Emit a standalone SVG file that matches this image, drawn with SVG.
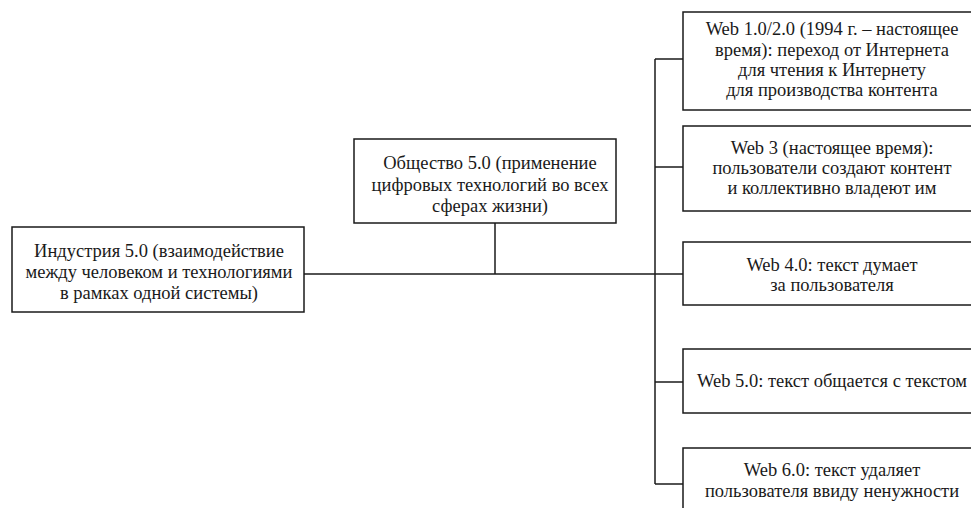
<svg xmlns="http://www.w3.org/2000/svg" width="971" height="508" viewBox="0 0 971 508">
<style>
.box{fill:#fff;stroke:#1a1a1a;stroke-width:1.5}
.t{font-family:"Liberation Serif","Times New Roman",Times,serif;font-size:18.5px;fill:#1a1a1a;text-anchor:middle}
.c{fill:none;stroke:#1a1a1a;stroke-width:1.5}
</style>
<rect width="971" height="508" fill="#fff"/>
<g id="connectors">
<path class="c" d="M304 274H683"/>
<path class="c" d="M495 223V274"/>
<path class="c" d="M655 59V484"/>
<path class="c" d="M655 59H683"/>
<path class="c" d="M655 167H683"/>
<path class="c" d="M655 382H683"/>
<path class="c" d="M655 484H683"/>
</g>
<g id="industry">
<rect class="box" x="12" y="227" width="292" height="85"/>
<text class="t" x="159" y="257">Индустрия 5.0 (взаимодействие</text>
<text class="t" x="159" y="278">между человеком и технологиями</text>
<text class="t" x="159" y="299">в рамках одной системы)</text>
</g>
<g id="society">
<rect class="box" x="354" y="139" width="262" height="84"/>
<text class="t" x="490" y="169">Общество 5.0 (применение</text>
<text class="t" x="490" y="191">цифровых технологий во всех</text>
<text class="t" x="490" y="212">сферах жизни)</text>
</g>
<g id="web1">
<rect class="box" x="683" y="12" width="300" height="98"/>
<text class="t" x="832" y="35">Web 1.0/2.0 (1994 г. – настоящее</text>
<text class="t" x="832" y="56">время): переход от Интернета</text>
<text class="t" x="832" y="76">для чтения к Интернету</text>
<text class="t" x="832" y="96">для производства контента</text>
</g>
<g id="web3">
<rect class="box" x="683" y="126" width="300" height="85"/>
<text class="t" x="832" y="154">Web 3 (настоящее время):</text>
<text class="t" x="832" y="174">пользователи создают контент</text>
<text class="t" x="832" y="194">и коллективно владеют им</text>
</g>
<g id="web4">
<rect class="box" x="683" y="242" width="300" height="63"/>
<text class="t" x="832" y="271">Web 4.0: текст думает</text>
<text class="t" x="832" y="291">за пользователя</text>
</g>
<g id="web5">
<rect class="box" x="683" y="349" width="300" height="64"/>
<text class="t" x="832" y="387">Web 5.0: текст общается с текстом</text>
</g>
<g id="web6">
<rect class="box" x="683" y="448" width="300" height="80"/>
<text class="t" x="832" y="476">Web 6.0: текст удаляет</text>
<text class="t" x="832" y="497">пользователя ввиду ненужности</text>
</g>
</svg>
